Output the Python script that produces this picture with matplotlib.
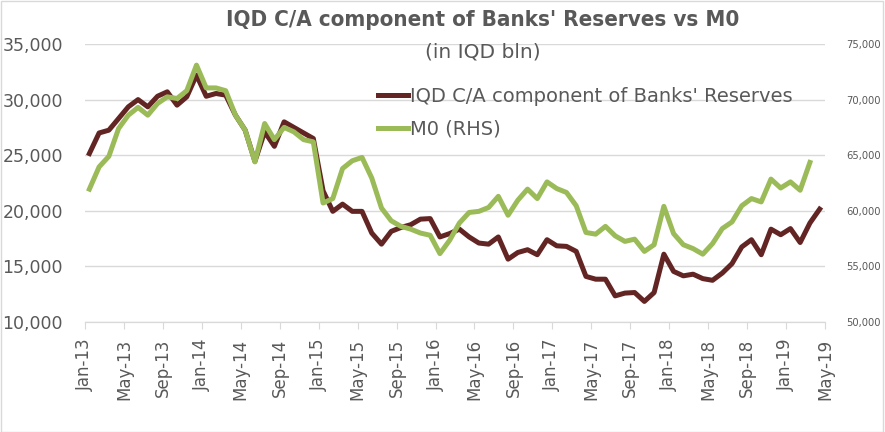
import numpy as np
import matplotlib.pyplot as plt
from matplotlib.ticker import FuncFormatter, MultipleLocator

# monthly values, first point Jan-13
reserves = [25150, 27000, 27250, 28300, 29350, 30000, 29350, 30300, 30700, 29500,
            30250, 32200, 30300, 30550, 30400, 28600, 27250, 24450, 27100, 25800,
            28000, 27500, 27000, 26500, 21800, 19950, 20600, 19950, 19950, 18000,
            17000, 18150, 18500, 18750, 19250, 19300, 17650, 17950, 18350, 17650,
            17100, 17000, 17650, 15650, 16250, 16500, 16050, 17400, 16850, 16800,
            16350, 14100, 13850, 13850, 12350, 12600, 12650, 11850, 12650, 16100,
            14550, 14150, 14300, 13900, 13750, 14400, 15250, 16750, 17400, 16050,
            18350, 17850, 18400, 17150, 18900, 20150]

m0 = [61950, 63950, 64900, 67400, 68600, 69300, 68600, 69650, 70250, 70100,
      70800, 73100, 71050, 71050, 70800, 68600, 67250, 64400, 67850, 66400,
      67500, 67100, 66400, 66200, 60700, 61100, 63800, 64500, 64800, 62950,
      60250, 59100, 58600, 58350, 58000, 57800, 56150, 57350, 58900, 59850,
      59950, 60300, 61300, 59600, 60950, 61950, 61100, 62600, 62000, 61650,
      60450, 58050, 57900, 58600, 57750, 57250, 57450, 56350, 56950, 60400,
      57950, 56950, 56600, 56100, 57050, 58400, 59000, 60450, 61100, 60800,
      62850, 62050, 62600, 61850, 64350]

tick_labels = ['Jan-13', 'May-13', 'Sep-13', 'Jan-14', 'May-14', 'Sep-14',
               'Jan-15', 'May-15', 'Sep-15', 'Jan-16', 'May-16', 'Sep-16',
               'Jan-17', 'May-17', 'Sep-17', 'Jan-18', 'May-18', 'Sep-18',
               'Jan-19', 'May-19']

red = '#632523'
green = '#9bbb59'
grey = '#595959'
gridc = '#d9d9d9'

fig = plt.figure(figsize=(8.85, 4.32), dpi=100)
ax = fig.add_axes([85/885, 1 - 322/432, 740/885, 278/432])
ax2 = ax.twinx()

x_res = np.arange(len(reserves)) + 0.45
x_m0 = np.arange(len(m0)) + 0.45

l1, = ax.plot(x_res, reserves, color=red, lw=3.6, label="IQD C/A component of Banks' Reserves")
l2, = ax2.plot(x_m0, m0, color=green, lw=3.6, label='M0 (RHS)')

ax.set_xlim(0, 76)
ax.set_ylim(10000, 35000)
ax2.set_ylim(50000, 75000)
ax.yaxis.set_major_locator(MultipleLocator(5000))
ax2.yaxis.set_major_locator(MultipleLocator(5000))
fmt = FuncFormatter(lambda v, p: '{:,.0f}'.format(v))
ax.yaxis.set_major_formatter(fmt)
ax2.yaxis.set_major_formatter(fmt)

ax.set_xticks(np.arange(0, 77, 4))
ax.set_xticklabels(tick_labels, rotation=90)

ax.grid(axis='y', color=gridc, lw=1)
ax.set_axisbelow(True)
for a in (ax, ax2):
    for s in ('left', 'right', 'top'):
        a.spines[s].set_visible(False)
    a.spines['bottom'].set_color(gridc)

ax.tick_params(axis='y', length=0, pad=16, labelsize=12.5, labelcolor=grey)
ax.tick_params(axis='x', length=5, color=gridc, pad=7, labelsize=12, labelcolor=grey)
ax2.tick_params(axis='y', length=0, pad=15, labelsize=7.2, labelcolor=grey)

fig.text(483/885, 1 - 20/432, "IQD C/A component of Banks' Reserves vs M0",
         ha='center', va='center', fontsize=16, fontweight='bold', color=grey,
         fontstretch='condensed')
fig.text(483/885, 1 - 52/432, '(in IQD bln)', ha='center', va='center',
         fontsize=14.5, color=grey)

fig.legend(handles=[l1, l2], loc='upper left', bbox_to_anchor=(378/885, 1 - 87/432),
           frameon=False, fontsize=14, handlelength=1.55, handletextpad=0.12,
           labelspacing=0.7, borderpad=0, borderaxespad=0, labelcolor=grey)

fig.patches.append(plt.Rectangle((0.001, 0.001), 0.997, 0.997, transform=fig.transFigure,
                                 fill=False, edgecolor=gridc, lw=1))

fig.savefig('out.png', dpi=100)
